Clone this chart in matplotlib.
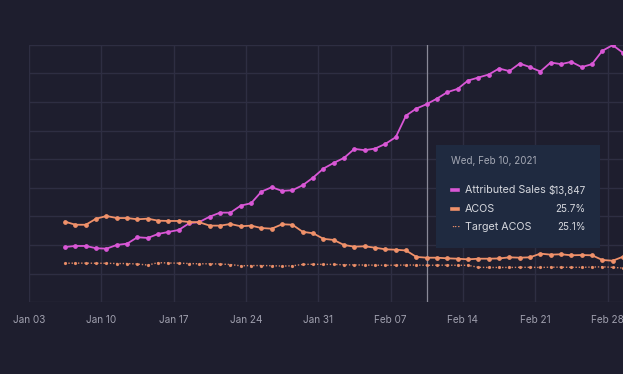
import matplotlib
matplotlib.use("Agg")
import matplotlib.pyplot as plt
import matplotlib.dates as mdates
import pandas as pd
import numpy as np
from matplotlib.patches import Rectangle

plt.rcParams['font.family'] = ['Inter', 'DejaVu Sans']

start_date = "2021-01-06 12:00"
n_days = 55
dates = pd.date_range(start_date, periods=n_days, freq="D")

attributed_sales = [
    3867, 3937, 3937, 3776, 3748, 4007, 4098, 4545, 4497, 4776,
    4916, 5056, 5524, 5615, 5986, 6266, 6266, 6755, 6923, 7734,
    8042, 7783, 7832, 8182, 8713, 9343, 9741, 10091, 10720, 10629,
    10741, 11070, 11538, 13049, 13538, 13847, 14238, 14685, 14916, 15496,
    15706, 15916, 16336, 16154, 16685, 16434, 16126, 16755, 16643, 16804,
    16434, 16643, 17573, 17972, 17433,
]
acos = [
    28.54, 28.30, 28.30, 28.78, 28.99, 28.83, 28.83, 28.73, 28.78, 28.62,
    28.60, 28.60, 28.52, 28.49, 28.23, 28.23, 28.36, 28.18, 28.23, 28.04,
    27.99, 28.34, 28.30, 27.74, 27.63, 27.19, 27.10, 26.70, 26.57, 26.60,
    26.49, 26.36, 26.33, 26.27, 25.76, 25.70, 25.70, 25.65, 25.62, 25.57,
    25.62, 25.62, 25.64, 25.73, 25.70, 25.73, 26.02, 25.94, 25.97, 25.89,
    25.91, 25.89, 25.52, 25.46, 25.78,
]
target_acos = [
    25.26, 25.27, 25.27, 25.26, 25.26, 25.24, 25.24, 25.20, 25.12, 25.31,
    25.28, 25.27, 25.24, 25.22, 25.22, 25.20, 25.16, 25.06, 25.08, 25.08,
    25.07, 25.04, 25.06, 25.17, 25.18, 25.17, 25.17, 25.14, 25.13, 25.12,
    25.11, 25.10, 25.11, 25.12, 25.12, 25.10, 25.11, 25.11, 25.10, 25.10,
    24.94, 24.93, 24.93, 24.93, 24.94, 24.94, 24.93, 24.95, 24.95, 24.94,
    24.94, 24.96, 24.98, 24.94, 24.88,
]
tick_dates = pd.date_range("2021-01-03", periods=9, freq="7D")
tick_labels = [d.strftime("%b %d") for d in tick_dates]
hover_date = pd.Timestamp("2021-02-10 12:00")
tooltip_title = "Wed, Feb 10, 2021"
legend_names = ["Attributed Sales", "ACOS", "Target ACOS"]
legend_values = ["$13,847", "25.7%", "25.1%"]

BG = "#1e1e2e"
GRID = "#2e2e42"
PINK = "#d957d6"
ORANGE = "#f0916a"
TICK = "#a0a0ae"

fig = plt.figure(figsize=(6.23, 3.74), dpi=100, facecolor=BG)
ax = fig.add_axes([29 / 623, 71.7 / 374, 1 - 29 / 623, 257.6 / 374])
ax.set_facecolor(BG)
ax2 = ax.twinx()

x0 = pd.Timestamp("2021-01-03")
ax.set_xlim(x0, x0 + pd.Timedelta(days=57.5))
ax.set_ylim(0, 18000)
ax.set_yticks(np.arange(0, 18001, 2000))
ax.set_xticks(tick_dates)
ax.set_xticklabels(tick_labels)
ax.tick_params(axis="x", length=0, pad=9.5, labelsize=7.2, colors=TICK)
ax.tick_params(axis="y", length=0, labelleft=False)
ax.grid(True, color=GRID, linewidth=1.0)
for s in ax.spines.values():
    s.set_visible(False)
for s in ax2.spines.values():
    s.set_visible(False)
ax2.set_ylim(22.18, 42.51)
ax2.set_yticks([])

# hover line
ax.axvline(hover_date, color="#8a8a98", linewidth=0.9, zorder=3)

ax.plot(dates, attributed_sales, color=PINK, linewidth=1.3, marker="o",
        markersize=2.4, zorder=5)
ax2.plot(dates, acos, color=ORANGE, linewidth=1.3, marker="o",
         markersize=2.4, zorder=5)
ax2.plot(dates, target_acos, color=ORANGE, linewidth=1.0,
         linestyle=(0, (1, 1.3)), marker="o", markersize=1.3, alpha=0.9, zorder=4)

# tooltip box
fig.patches.append(Rectangle((436 / 623, 1 - 248.3 / 374), 164 / 623, 103.3 / 374,
                             transform=fig.transFigure, facecolor="#1f2a40",
                             edgecolor="none", zorder=10))
fig.text(450.7 / 623, 1 - 160.7 / 374, tooltip_title, color="#a4a8b4",
         fontsize=7.1, va="center", ha="left", zorder=11)
ys = [190.3, 208.5, 227.0]
for i, (name, val) in enumerate(zip(legend_names, legend_values)):
    yy = 1 - ys[i] / 374
    if i == 2:
        fig.text(451.5 / 623, yy, "···", color=ORANGE, fontsize=7, va="center",
                 ha="left", zorder=11, fontweight="bold")
    else:
        c = PINK if i == 0 else ORANGE
        fig.lines.append(plt.Line2D([451.5 / 623, 457.7 / 623], [yy, yy],
                                    transform=fig.transFigure, color=c,
                                    linewidth=2.6, zorder=11))
    fig.text(465 / 623, yy, name, color="#d6d8de", fontsize=7.7, va="center",
             ha="left", zorder=11)
    fig.text(585.5 / 623, yy, val, color="#d6d8de", fontsize=7.1, va="center",
             ha="right", zorder=11)

fig.savefig("out.png", dpi=100, facecolor=BG)
